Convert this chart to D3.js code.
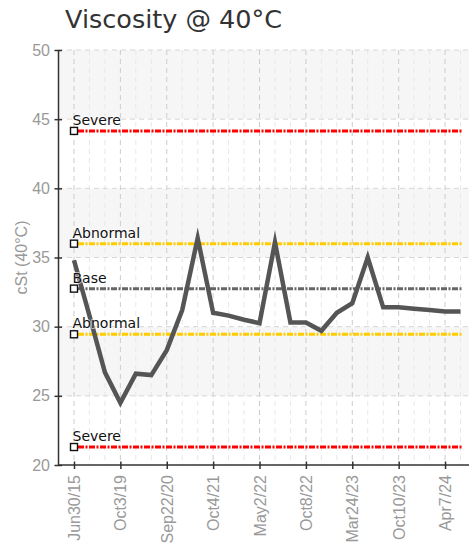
<!DOCTYPE html>
<html><head><meta charset="utf-8">
<script src="https://cdn.jsdelivr.net/npm/d3@7"></script>
<style>body{margin:0;background:#fff}svg{display:block}</style>
</head><body>
<script>
const title = "Viscosity @ 40°C";
const yTitle = "cSt (40°C)";
const tickLabels = ["Jun30/15","","","Oct3/19","","","Sep22/20","","","Oct4/21","","","May2/22","","","Oct8/22","","","Mar24/23","","","Oct10/23","","","Apr7/24",""];
const values = [34.8,30.8,26.7,24.5,26.6,26.5,28.3,31.2,36.4,31.0,30.8,30.5,30.25,36.1,30.3,30.3,29.7,31.0,31.7,35.0,31.4,31.4,31.3,31.2,31.1,31.1];
const refNames = ["Severe","Abnormal","Base","Abnormal","Severe"];
const refValues = [44.15,36.0,32.75,29.45,21.3];
const refColors = ["#ff0000","#ffcc00","#666666","#ffcc00","#ff0000"];
const yTicks = [20,25,30,35,40,45,50];

const W = 469, H = 547;
const mLeft = 58, mRight = 469, mTop = 50, mBottom = 465;
const svg = d3.select("body").append("svg").attr("width", W).attr("height", H);

const idx = d3.range(values.length);
const x = d3.scalePoint().domain(idx).range([74, 460.5]);
const y = d3.scaleLinear().domain([20, 50]).range([mBottom, mTop]);

// bands
const bands = svg.append("g");
for (let i = 0; i < yTicks.length - 1; i++) {
  const a = yTicks[i], b = yTicks[i+1];
  bands.append("rect").attr("x", mLeft).attr("width", mRight - mLeft)
    .attr("y", y(b)).attr("height", y(a) - y(b))
    .attr("fill", i % 2 === 1 ? "#f6f6f6" : "#ffffff");
}
// vertical grid
svg.append("g").selectAll("line").data(idx).join("line")
  .attr("x1", d => x(d)).attr("x2", d => x(d)).attr("y1", mTop).attr("y2", mBottom)
  .attr("stroke", d => tickLabels[d] ? "#cccccc" : "#e8e8e8")
  .attr("stroke-width", 1).attr("stroke-dasharray", "5,4");
// horizontal grid
svg.append("g").selectAll("line").data(yTicks.filter(t => t > 20)).join("line")
  .attr("x1", mLeft).attr("x2", mRight).attr("y1", d => y(d)).attr("y2", d => y(d))
  .attr("stroke", "#d6d6d6").attr("stroke-width", 1).attr("stroke-dasharray", "5,4");

// reference lines
const refs = svg.append("g");
refValues.forEach((v, i) => {
  refs.append("line").attr("x1", x(0) + 4).attr("x2", x(idx.length - 1) + 2)
    .attr("y1", y(v)).attr("y2", y(v)).attr("stroke", refColors[i])
    .attr("stroke-width", 3).attr("stroke-dasharray", "6,1.5,2,1.5");
});

// main line
svg.append("path").datum(values)
  .attr("fill", "none").attr("stroke", "#555").attr("stroke-width", 4.5)
  .attr("stroke-linejoin", "miter").attr("stroke-miterlimit", 10)
  .attr("d", d3.line().x((d, i) => x(i)).y(d => y(d)));

// markers & labels
refValues.forEach((v, i) => {
  svg.append("rect").attr("x", x(0) - 3.5).attr("y", y(v) - 3.5).attr("width", 7).attr("height", 7)
    .attr("fill", "#fff").attr("stroke", "#111").attr("stroke-width", 1.4);
  svg.append("text").attr("x", x(0) - 1.5).attr("y", y(v) - 6)
    .attr("font-family", "DejaVu Sans").attr("font-size", 14).attr("fill", "#111")
    .attr("style", "paint-order:stroke").attr("stroke", "rgba(255,255,255,0.6)").attr("stroke-width", 2)
    .text(refNames[i]);
});

// axes
const yAxis = svg.append("g").attr("transform", `translate(${mLeft},0)`)
  .call(d3.axisLeft(y).tickValues(yTicks).tickSize(0).tickPadding(8));
yAxis.select(".domain").attr("stroke", "#333").attr("stroke-width", 1.5);
yAxis.selectAll(".tick line").attr("x1", -3.5).attr("x2", 4).attr("stroke", "#333").attr("stroke-width", 1.5);
yAxis.selectAll(".tick text").attr("fill", "#999").attr("font-family", "Liberation Sans").attr("font-size", 16);

const xAxis = svg.append("g").attr("transform", `translate(0,${mBottom})`)
  .call(d3.axisBottom(x).tickValues(idx.filter(i => tickLabels[i])).tickFormat(i => tickLabels[i]).tickSize(0));
xAxis.select(".domain").attr("d", `M${mLeft},0H${mRight}`).attr("stroke", "#333").attr("stroke-width", 1.5);
xAxis.selectAll(".tick line").attr("y1", -3.5).attr("y2", 4).attr("stroke", "#333").attr("stroke-width", 1.5);
xAxis.selectAll(".tick text").attr("fill", "#999").attr("font-family", "Liberation Sans").attr("font-size", 16)
  .attr("text-anchor", "end").attr("transform", "rotate(-90)").attr("x", -10).attr("y", 0).attr("dy", "0.35em");

// titles
svg.append("text").attr("x", 65).attr("y", 28).attr("font-family", "DejaVu Sans")
  .attr("font-size", 25.5).attr("fill", "#333").text(title);
svg.append("text").attr("transform", `translate(21,${(mTop + mBottom) / 2}) rotate(-90)`)
  .attr("text-anchor", "middle").attr("dy", "0.35em").attr("font-family", "Liberation Sans")
  .attr("font-size", 16).attr("fill", "#999").text(yTitle);
</script>
</body></html>
